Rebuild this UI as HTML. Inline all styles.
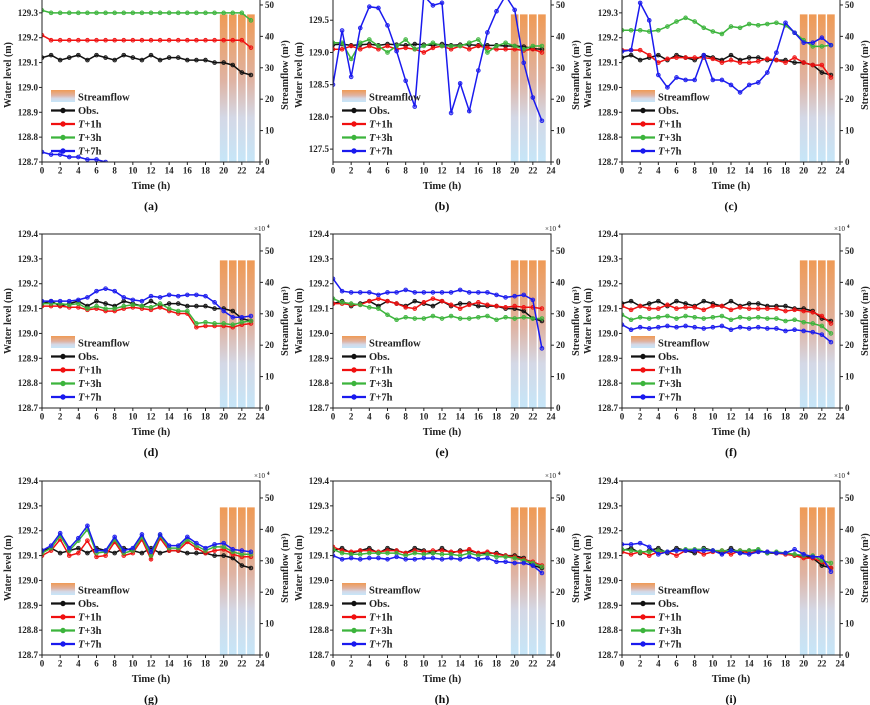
<!DOCTYPE html>
<html><head><meta charset="utf-8"><style>
body{margin:0;background:#fff}
svg{display:block;font-family:"Liberation Serif",serif;font-weight:bold}
</style></head><body>
<svg id="fig" width="870" height="705" viewBox="0 0 870 705">
<defs>
<linearGradient id="flowGrad" x1="0" y1="0" x2="0" y2="1">
<stop offset="0" stop-color="#ef9a55"/><stop offset="0.45" stop-color="#dfb3a3"/><stop offset="0.7" stop-color="#d4d8e6"/><stop offset="1" stop-color="#c6e6f8"/>
</linearGradient>
</defs>
</svg>
<script>
const hours=[0,1,2,3,4,5,6,7,8,9,10,11,12,13,14,15,16,17,18,19,20,21,22,23];
const flowHours=[20,21,22,23];
const flowValues=[47,47,47,47];
const xTicks=[0,2,4,6,8,10,12,14,16,18,20,22,24];
const rightTicks=[0,10,20,30,40,50];
const yTicksStd=[128.7,128.8,128.9,129.0,129.1,129.2,129.3,129.4];
const yTicksB=[127.5,128.0,128.5,129.0,129.5,130.0];
const panelLabels=["(a)","(b)","(c)","(d)","(e)","(f)","(g)","(h)","(i)"];
const obsStd=[129.12,129.13,129.11,129.12,129.13,129.11,129.13,129.12,129.11,129.13,129.12,129.11,129.13,129.11,129.12,129.12,129.11,129.11,129.11,129.10,129.10,129.09,129.06,129.05];
// (a)
const t1A=[129.21,129.19,129.19,129.19,129.19,129.19,129.19,129.19,129.19,129.19,129.19,129.19,129.19,129.19,129.19,129.19,129.19,129.19,129.19,129.19,129.19,129.19,129.19,129.16];
const t3A=[129.31,129.30,129.30,129.30,129.30,129.30,129.30,129.30,129.30,129.30,129.30,129.30,129.30,129.30,129.30,129.30,129.30,129.30,129.30,129.30,129.30,129.30,129.30,129.27];
const t7A=[128.74,128.73,128.73,128.72,128.72,128.71,128.71,128.70,128.69,128.69,128.68,128.67,128.66,128.65,128.64,128.63,128.62,128.61,128.60,128.59,128.58,128.57,128.56,128.55];
// (b)
const t1B=[129.05,129.05,129.10,129.05,129.10,129.05,129.10,129.05,129.07,129.05,129.00,129.07,129.10,129.05,129.10,129.05,129.10,129.07,129.05,129.05,129.05,129.03,129.05,129.00];
const t3B=[129.15,129.15,128.90,129.15,129.20,129.10,129.00,129.10,129.20,129.05,129.10,129.15,129.10,129.10,129.10,129.15,129.20,129.00,129.10,129.15,129.10,129.05,129.10,129.10];
const t7B=[128.50,129.34,128.62,129.38,129.71,129.69,129.42,129.02,128.56,128.16,129.88,129.73,129.77,128.06,128.52,128.09,128.72,129.31,129.64,129.88,129.66,128.84,128.30,127.94];
// (c)
const t1C=[129.15,129.15,129.15,129.13,129.10,129.115,129.12,129.12,129.12,129.12,129.115,129.10,129.11,129.10,129.10,129.105,129.115,129.11,129.10,129.12,129.10,129.09,129.09,129.04];
const t3C=[129.23,129.23,129.23,129.225,129.23,129.245,129.265,129.28,129.265,129.24,129.225,129.215,129.245,129.24,129.255,129.25,129.255,129.26,129.25,129.22,129.19,129.165,129.165,129.17];
const t7C=[129.145,129.15,129.34,129.27,129.05,129.00,129.04,129.03,129.03,129.13,129.03,129.03,129.01,128.98,129.01,129.02,129.06,129.14,129.26,129.22,129.18,129.18,129.20,129.17];
// (d)
const t1D=[129.11,129.11,129.11,129.105,129.105,129.095,129.10,129.09,129.09,129.10,129.105,129.10,129.095,129.105,129.09,129.08,129.08,129.025,129.03,129.03,129.03,129.025,129.035,129.04];
const t3D=[129.12,129.12,129.12,129.115,129.12,129.10,129.11,129.10,129.10,129.11,129.115,129.11,129.105,129.12,129.10,129.09,129.09,129.04,129.045,129.04,129.04,129.035,129.045,129.05];
const t7D=[129.13,129.13,129.13,129.13,129.135,129.145,129.17,129.18,129.17,129.145,129.135,129.13,129.15,129.145,129.155,129.15,129.155,129.155,129.15,129.125,129.09,129.065,129.065,129.07];
// (e)
const t1E=[129.12,129.12,129.115,129.115,129.13,129.14,129.13,129.12,129.105,129.10,129.125,129.14,129.13,129.115,129.10,129.115,129.125,129.115,129.11,129.105,129.11,129.105,129.105,129.10];
const t3E=[129.14,129.125,129.12,129.115,129.105,129.10,129.075,129.055,129.065,129.06,129.06,129.07,129.06,129.07,129.06,129.06,129.065,129.07,129.055,129.065,129.06,129.065,129.06,129.06];
const t7E=[129.22,129.17,129.165,129.165,129.165,129.155,129.165,129.165,129.175,129.165,129.165,129.165,129.165,129.165,129.175,129.165,129.165,129.165,129.155,129.145,129.15,129.155,129.135,128.94];
// (f)
const t1F=[129.11,129.095,129.11,129.10,129.10,129.115,129.10,129.105,129.105,129.095,129.11,129.11,129.095,129.105,129.10,129.10,129.10,129.10,129.09,129.095,129.09,129.085,129.07,129.04];
const t3F=[129.075,129.055,129.065,129.06,129.065,129.07,129.06,129.07,129.065,129.06,129.065,129.07,129.055,129.065,129.06,129.065,129.06,129.06,129.05,129.055,129.045,129.04,129.03,129.00];
const t7F=[129.035,129.015,129.025,129.02,129.025,129.03,129.025,129.03,129.025,129.02,129.025,129.03,129.015,129.025,129.02,129.025,129.02,129.02,129.01,129.015,129.01,129.005,128.995,128.965];
// (g)
const t1G=[129.10,129.12,129.165,129.10,129.11,129.16,129.095,129.10,129.155,129.10,129.11,129.165,129.085,129.17,129.12,129.12,129.155,129.13,129.11,129.12,129.125,129.105,129.095,129.095];
const t3G=[129.11,129.13,129.18,129.12,129.16,129.205,129.11,129.115,129.165,129.11,129.12,129.175,129.10,129.18,129.13,129.13,129.165,129.14,129.12,129.135,129.135,129.115,129.105,129.105];
const t7G=[129.12,129.14,129.19,129.13,129.17,129.22,129.12,129.12,129.175,129.12,129.13,129.185,129.115,129.185,129.14,129.14,129.175,129.15,129.13,129.145,129.15,129.125,129.12,129.115];
// (h)
const t1H=[129.135,129.12,129.115,129.12,129.12,129.115,129.12,129.12,129.11,129.12,129.115,129.12,129.12,129.115,129.115,129.125,129.11,129.115,129.105,129.10,129.095,129.085,129.075,129.06];
const t3H=[129.125,129.11,129.105,129.105,129.11,129.11,129.11,129.11,129.10,129.11,129.105,129.11,129.105,129.105,129.10,129.11,129.10,129.105,129.095,129.095,129.09,129.08,129.07,129.055];
const t7H=[129.10,129.085,129.09,129.085,129.09,129.09,129.085,129.095,129.085,129.085,129.09,129.09,129.085,129.09,129.085,129.095,129.085,129.09,129.075,129.075,129.07,129.07,129.06,129.03];
// (i)
const t1I=[129.115,129.105,129.115,129.10,129.115,129.115,129.10,129.12,129.12,129.105,129.115,129.12,129.105,129.12,129.11,129.115,129.115,129.11,129.105,129.10,129.09,129.09,129.075,129.05];
const t3I=[129.125,129.12,129.115,129.115,129.12,129.115,129.12,129.125,129.125,129.125,129.12,129.12,129.12,129.12,129.12,129.125,129.11,129.115,129.11,129.105,129.10,129.10,129.08,129.07];
const t7I=[129.145,129.145,129.15,129.135,129.105,129.115,129.12,129.12,129.12,129.12,129.12,129.105,129.12,129.11,129.105,129.115,129.115,129.11,129.11,129.125,129.105,129.095,129.095,129.035];

const seriesSets=[[obsStd,t1A,t3A,t7A],[obsStd,t1B,t3B,t7B],[obsStd,t1C,t3C,t7C],[obsStd,t1D,t3D,t7D],[obsStd,t1E,t3E,t7E],[obsStd,t1F,t3F,t7F],[obsStd,t1G,t3G,t7G],[obsStd,t1H,t3H,t7H],[obsStd,t1I,t3I,t7I]];
const seriesNames=["obs","t-plus-1h","t-plus-3h","t-plus-7h"];
const colors=["#111","#f01010","#3cb43c","#1a1aee"];
const NS="http://www.w3.org/2000/svg";
const svg=document.getElementById('fig');
function mk(tag,attrs,parent){const e=document.createElementNS(NS,tag);for(const k in attrs)e.setAttribute(k,attrs[k]);(parent||svg).appendChild(e);return e;}
function txt(s,attrs,parent){const e=mk('text',attrs,parent);e.textContent=s;return e;}
const lefts=[42,333,622],bottoms=[162,408,655],W=218,H=174;
for(let p=0;p<9;p++){
  const L=lefts[p%3],B=bottoms[Math.floor(p/3)],T=B-H,R=L+W;
  const isB=p===1;
  const ymin=isB?127.3:128.7,ymax=isB?130.0:129.4;
  const yT=isB?yTicksB:yTicksStd;
  const xs=v=>L+v/24*W;
  const ys=v=>B-(v-ymin)/(ymax-ymin)*H;
  const ys2=v=>B-v/55.4*H;
  const g=mk('g',{});
  
  
  const cid='clip'+p;
  const cp=mk('clipPath',{id:cid},g);mk('rect',{x:L,y:T,width:W,height:H},cp);
  const bg=mk('g',{},g);
  
  
  flowHours.forEach((h,i)=>{const r=mk('rect',{x:xs(h-0.42),width:W/24*0.84,y:ys2(flowValues[i]),height:B-ys2(flowValues[i]),fill:'url(#flowGrad)'},bg);
    
    });
  const sg=mk('g',{'clip-path':'url(#'+cid+')'},g);
  seriesSets[p].forEach((arr,si)=>{
    const pts=arr.map((v,i)=>xs(hours[i]).toFixed(1)+','+ys(v).toFixed(1)).join(' ');
    const pl=mk('polyline',{points:pts,fill:'none',stroke:colors[si],'stroke-width':1.5},sg);
    
    
    arr.forEach((v,i)=>{const c=mk('circle',{cx:xs(hours[i]),cy:ys(v),r:1.9,fill:colors[si],'fill-opacity':0.55,stroke:colors[si],'stroke-width':0.8},sg);
      
      });
  });
  const fr=mk('rect',{x:L,y:T,width:W,height:H,fill:'none',stroke:'#222','stroke-width':1},g);
  
  
  xTicks.forEach(v=>{mk('line',{x1:xs(v),x2:xs(v),y1:B,y2:B+3,stroke:'#222'},g);
    const t=txt(String(v),{x:xs(v),y:B+11.5,'font-size':9,'text-anchor':'middle',fill:'#222'},g);
    
    });
  yT.forEach(v=>{mk('line',{x1:L-3,x2:L,y1:ys(v),y2:ys(v),stroke:'#222'},g);
    const t=txt(v.toFixed(1),{x:L-4,y:ys(v)+3,'font-size':9,'text-anchor':'end',fill:'#222'},g);
    
    });
  rightTicks.forEach(v=>{mk('line',{x1:R,x2:R+3,y1:ys2(v),y2:ys2(v),stroke:'#222'},g);
    const t=txt(String(v),{x:R+5,y:ys2(v)+3,'font-size':9,fill:'#222'},g);
    
    });
  const e1=txt('×10',{x:R-6,y:T-3,'font-size':7,fill:'#222','font-weight':'normal'},g);
  
  
  txt('4',{x:R+7,y:T-6,'font-size':5,fill:'#222'},g);
  const yl=txt('Water level (m)',{x:0,y:0,'font-size':10,'text-anchor':'middle',fill:'#222',transform:`translate(${L-31},${(T+B)/2}) rotate(-90)`},g);
  
  
  const rl=txt('Streamflow (m³)',{x:0,y:0,'font-size':10,'text-anchor':'middle',fill:'#222',transform:`translate(${R+28},${(T+B)/2}) rotate(-90)`},g);
  
  
  const xl=txt('Time (h)',{x:(L+R)/2,y:B+27,'font-size':10.5,'text-anchor':'middle',fill:'#222'},g);
  
  
  const pl=txt(panelLabels[p],{x:(L+R)/2,y:B+48,'font-size':12,'text-anchor':'middle',fill:'#111'},g);
  
  
  const lg=mk('g',{},g);
  
  
  const ly=B-65;
  mk('rect',{x:L+9,y:ly-7,width:24,height:12,fill:'url(#flowGrad)'},lg);
  const st=txt('Streamflow',{x:L+36,y:ly+3.5,'font-size':10.5,fill:'#222'},lg);
  
  
  const suf=['','+1h','+3h','+7h'];
  for(let k=0;k<4;k++){
    const yy=ly+13.5*(k+1);
    mk('line',{x1:L+9,x2:L+33,y1:yy,y2:yy,stroke:colors[k],'stroke-width':2.2},lg);
    mk('circle',{cx:L+21,cy:yy,r:2.2,fill:colors[k],stroke:colors[k]},lg);
    const t=mk('text',{x:L+36,y:yy+3.5,'font-size':10.5,fill:'#222'},lg);
    
    
    if(k===0)t.textContent='Obs.';
    else{const a=document.createElementNS(NS,'tspan');a.setAttribute('font-style','italic');a.textContent='T';t.appendChild(a);
      const b=document.createElementNS(NS,'tspan');b.textContent=suf[k];t.appendChild(b);}
  }
}
</script>
</body></html>
